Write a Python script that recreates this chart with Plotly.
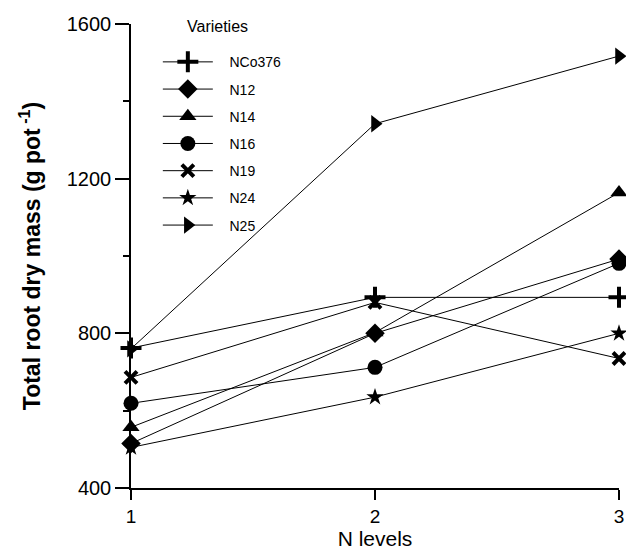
import plotly.graph_objects as go

n_levels = [1, 2, 3]
varieties = ["NCo376", "N12", "N14", "N16", "N19", "N24", "N25"]
ncos376 = [762, 893, 893]
n12 = [515, 800, 992]
n14 = [557, 802, 1164]
n16 = [619, 712, 981]
n19 = [686, 880, 735]
n24 = [505, 635, 800]
n25 = [760, 1342, 1517]
series = [ncos376, n12, n14, n16, n19, n24, n25]
symbols = ["cross-thin", "diamond", "triangle-up", "circle", "x-thin", "star", "triangle-right"]
sizes = [15, 15, 15, 15, 12, 13, 15]

fig = go.Figure()
for i, (name, vals) in enumerate(zip(varieties, series)):
    sym = symbols[i]
    mk = dict(symbol=sym, size=sizes[i], color="black")
    if sym.endswith("-thin"):
        mk["line"] = dict(width=4, color="black")
    fig.add_trace(go.Scatter(
        x=n_levels, y=vals, name="\u00a0\u00a0\u00a0" + name, mode="lines+markers",
        line=dict(color="black", width=1), marker=mk,
        cliponaxis=False, legendgroup=name,
    ))

font = "Liberation Sans, Arial, sans-serif"
fig.update_layout(
    width=626, height=553,
    margin=dict(l=131, r=7, t=24, b=65),
    plot_bgcolor="white", paper_bgcolor="white",
    font=dict(family=font, color="black", size=15),
    showlegend=True,
    legend=dict(x=0.055, y=0.952, xanchor="left", yanchor="top",
                bgcolor="rgba(0,0,0,0)", tracegroupgap=6,
                font=dict(size=14, family=font), itemwidth=50),
    xaxis=dict(range=[1, 3], tickvals=[1, 2, 3], showline=True, linecolor="black",
               linewidth=1.5, ticks="outside", ticklen=10, tickwidth=1.5, tickcolor="black",
               showgrid=False, zeroline=False, tickfont=dict(size=19), automargin=False,
               title=dict(text="N levels", font=dict(size=21), standoff=0)),
    yaxis=dict(range=[400, 1600], tickvals=[400, 800, 1200, 1600], showline=True,
               linecolor="black", linewidth=1.5, ticks="outside", ticklen=14, tickwidth=1.5,
               tickcolor="black", showgrid=False, zeroline=False, tickfont=dict(size=20),
               automargin=False,
               minor=dict(tickvals=[600, 1000, 1400], ticks="outside", ticklen=6, tickcolor="black", showgrid=False),
               title=dict(text="<b>Total root dry mass (g pot<sup> -1</sup>)</b>", font=dict(size=23), standoff=20)),
    annotations=[dict(text="Varieties", xref="paper", yref="paper", x=0.11, y=0.994,
                      xanchor="left", yanchor="middle", showarrow=False, font=dict(size=16))],
)

fig.write_html("out.html")
